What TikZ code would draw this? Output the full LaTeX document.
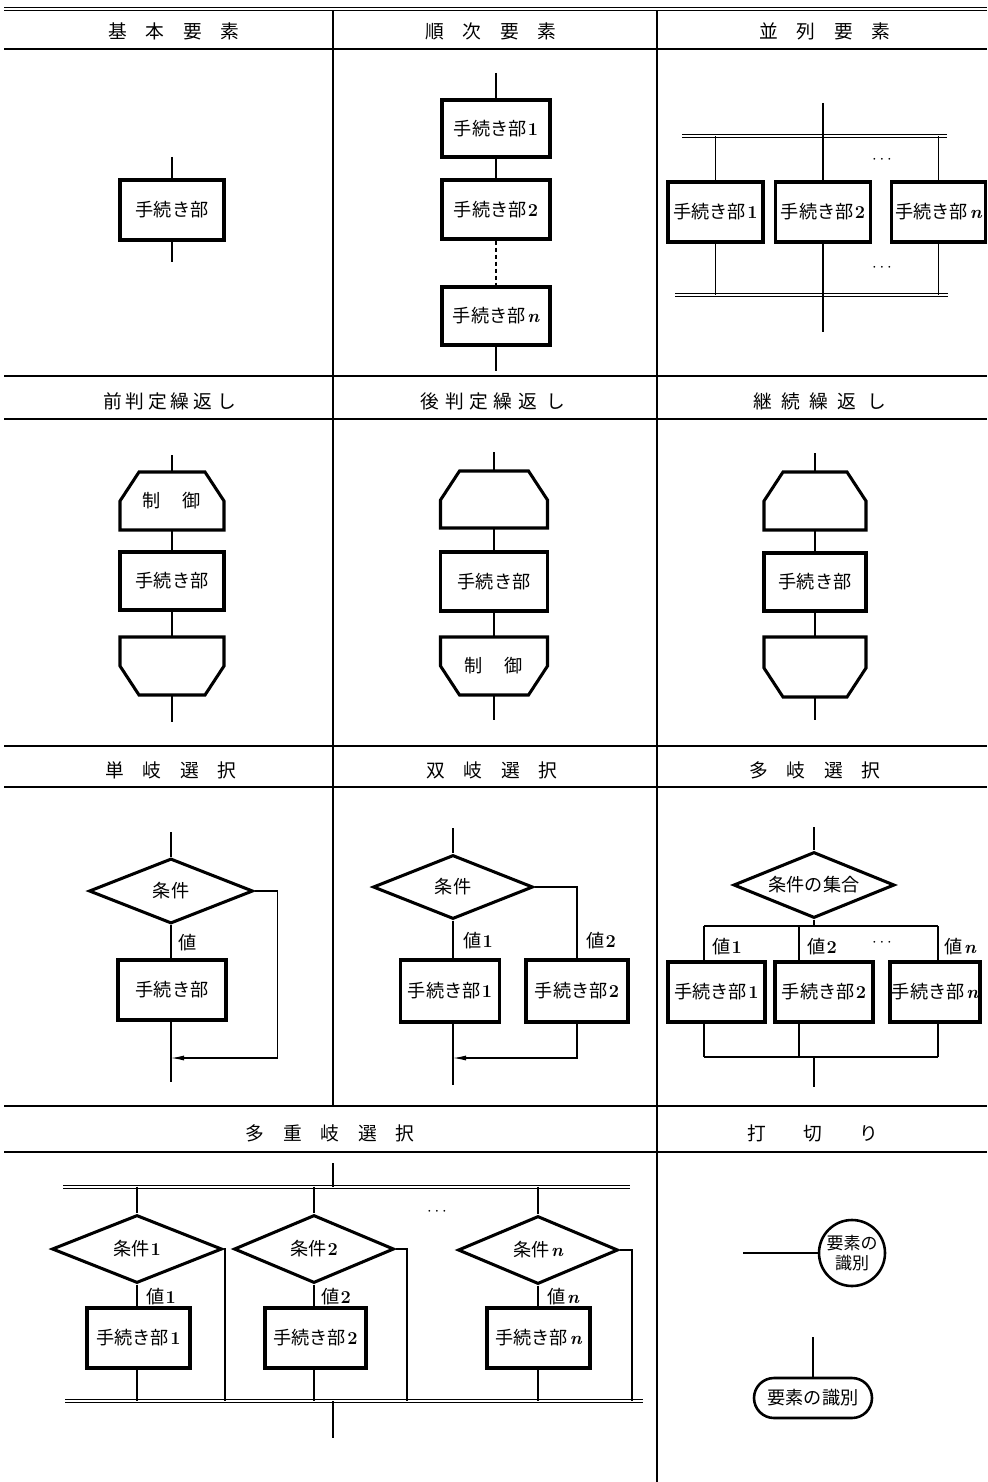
\documentclass[tikz,border=0pt]{standalone}
\usepackage{fontspec}
\newfontfamily\jp{Noto Sans CJK JP}
\usetikzlibrary{shapes.geometric,arrows.meta}

\def\upx{0.3mm}  %% one pixel of the 987 x 1482 sheet
\newcommand{\idx}[1]{\kern1pt{\rmfamily\bfseries #1}}
\newcommand{\nidx}{\kern1.5pt{\rmfamily\bfseries\itshape n}}
\newcommand{\hsp}[1]{\hspace{#1em}}

%% loop caps: outline drawn on the anchors of a plain node
\newcommand{\capup}[1]{%
  \draw[heavy] ([xshift=19*\upx]#1.north west) -- ([xshift=-19*\upx]#1.north east)
    -- ([yshift=-29*\upx]#1.north east) -- (#1.south east) -- (#1.south west)
    -- ([yshift=-29*\upx]#1.north west) -- cycle;}
\newcommand{\capdown}[1]{%
  \draw[heavy] (#1.north west) -- (#1.north east) -- ([yshift=29*\upx]#1.south east)
    -- ([xshift=-19*\upx]#1.south east) -- ([xshift=19*\upx]#1.south west)
    -- ([yshift=29*\upx]#1.south west) -- cycle;}

\tikzset{
  gridrule/.style={line width=1.1pt},
  twin/.style={double, double distance=2*\upx, line width=1*\upx},
  flow/.style={line width=0.9pt},
  heavy/.style={line width=2.6pt, line join=miter},
  sz/.style 2 args={minimum width=#1*\upx, minimum height=#2*\upx},
  proc/.style={draw, heavy, inner sep=0pt},
  cond/.style={diamond, draw, heavy, inner sep=0pt, shape aspect=2.5},
  capbox/.style={inner sep=0pt, outer sep=0pt},
  backflow/.style={flow, -{Latex[length=13*\upx, width=5*\upx]}},
  headtxt/.style={font=\jp\fontsize{16}{19}\selectfont},
  valtag/.style={anchor=west, inner sep=0pt},
}

\begin{document}
\begin{tikzpicture}[x=\upx, y=-\upx,
  every node/.style={font=\jp\fontsize{15.5}{18}\selectfont}]
\useasboundingbox (0,0) rectangle (987,1482);

%% Table rules
\draw[twin] (4,9.5) -- (987,9.5);
\foreach \y in {49,376,419,746,787,1106,1152}
  \draw[gridrule] (4,\y) -- (987,\y);
\draw[gridrule] (333,11) -- (333,1106);
\draw[gridrule] (657,11) -- (657,1482);

%% Headings
\node[headtxt] (h1) at (174,31) {基\hsp{1}本\hsp{1}要\hsp{1}素};
\node[headtxt] (h2) at (491,31) {順\hsp{1}次\hsp{1}要\hsp{1}素};
\node[headtxt] (h3) at (825,31) {並\hsp{1}列\hsp{1}要\hsp{1}素};
\node[headtxt] (h4) at (170,401) {前\hsp{.2}判\hsp{.2}定\hsp{.2}繰\hsp{.2}返\hsp{.3}し};
\node[headtxt] (h5) at (493,401) {後\hsp{.3}判\hsp{.3}定\hsp{.3}繰\hsp{.3}返\hsp{.5}し};
\node[headtxt] (h6) at (820,401) {継\hsp{.5}続\hsp{.5}繰\hsp{.5}返\hsp{.6}し};
\node[headtxt] (h7) at (171,770) {単\hsp{1}岐\hsp{1}選\hsp{1}択};
\node[headtxt] (h8) at (492,770) {双\hsp{1}岐\hsp{1}選\hsp{1}択};
\node[headtxt] (h9) at (815,770) {多\hsp{1}岐\hsp{1}選\hsp{1}択};
\node[headtxt] (h10) at (330,1133) {多\hsp{1}重\hsp{1}岐\hsp{1}選\hsp{1}択};
\node[headtxt] (h11) at (813,1133) {打\hsp{2}切\hsp{2}り};

%% Basic element
\node[proc, sz={104}{60}] (b0) at (172,210) {手続き部};
\coordinate (b0in) at (172,157);
\coordinate (b0out) at (172,262);
\draw[flow] (b0in) -- (b0.north);
\draw[flow] (b0.south) -- (b0out);

%% Sequence
\node[proc, sz={108}{57}] (s1) at (496,128.5) {手続き部\idx{1}};
\node[proc, sz={108}{59}] (s2) at (496,209.5) {手続き部\idx{2}};
\node[proc, sz={108}{58}] (sn) at (496,316) {手続き部\nidx};
\coordinate (sin) at (496,73);
\coordinate (sout) at (496,371);
\draw[flow] (sin) -- (s1.north);
\draw[flow] (s1.south) -- (s2.north);
\draw[flow, dash pattern=on 3.5pt off 2.5pt] (s2.south) -- (sn.north);
\draw[flow] (sn.south) -- (sout);

%% Parallel
\node[proc, sz={95}{60}] (p1) at (715.5,212) {手続き部\idx{1}};
\node[proc, sz={95}{60}] (p2) at (823,212) {手続き部\idx{2}};
\node[proc, sz={94}{60}] (pn) at (938.5,212) {手続き部\nidx};
\coordinate (pin) at (823,103);
\coordinate (pbl) at (682,136.5);
\coordinate (pbr) at (947,136.5);
\coordinate (qbl) at (675,295);
\coordinate (qbr) at (948,295);
\coordinate (pout) at (823,332);
\draw[twin] (pbl) -- (pbr);
\draw[twin] (qbl) -- (qbr);
\draw[flow] (pin) -- (pin |- pbl);
\foreach \b in {p1,p2,pn}{
  \draw[flow] (\b.north |- pbl) -- (\b.north);
  \draw[flow] (\b.south) -- (\b.south |- qbl);
}
\draw[flow] (pin |- qbl) -- (pout);
\node (pd1) at (882,160) {$\cdots$};
\node (pd2) at (882,268) {$\cdots$};

%% Pre-test loop
\node[capbox, sz={104}{58}, yshift=-3*\upx] (lc1) at (172,498) {制\hsp{1.2}御};
\node[proc, sz={104}{58}] (lb1) at (172,581) {手続き部};
\node[capbox, sz={104}{58}] (le1) at (172,666) {};
\capup{lc1}
\capdown{le1}
\coordinate (l1in) at (172,455);
\coordinate (l1out) at (172,722);
\draw[flow] (l1in) -- (lc1.north);
\draw[flow] (lc1.south) -- (lb1.north);
\draw[flow] (lb1.south) -- (le1.north);
\draw[flow] (le1.south) -- (l1out);

%% Post-test loop
\node[capbox, sz={107}{57}] (lc2) at (494,499.5) {};
\node[proc, sz={107}{59}] (lb2) at (494,581.5) {手続き部};
\node[capbox, sz={107}{58}] (le2) at (494,666) {制\hsp{1.2}御};
\capup{lc2}
\capdown{le2}
\coordinate (l2in) at (494,452);
\coordinate (l2out) at (494,720);
\draw[flow] (l2in) -- (lc2.north);
\draw[flow] (lc2.south) -- (lb2.north);
\draw[flow] (lb2.south) -- (le2.north);
\draw[flow] (le2.south) -- (l2out);

%% Endless loop
\node[capbox, sz={102}{58}] (lc3) at (815,501) {};
\node[proc, sz={102}{58}] (lb3) at (815,582) {手続き部};
\node[capbox, sz={102}{60}] (le3) at (815,667) {};
\capup{lc3}
\capdown{le3}
\coordinate (l3in) at (815,453);
\coordinate (l3out) at (815,720);
\draw[flow] (l3in) -- (lc3.north);
\draw[flow] (lc3.south) -- (lb3.north);
\draw[flow] (lb3.south) -- (le3.north);
\draw[flow] (le3.south) -- (l3out);

%% Single branch
\node[cond, sz={164}{65}] (c1) at (171,891) {条件};
\node[proc, sz={108}{60}] (a1) at (172,990) {手続き部};
\node[valtag] (v1) at (178,943) {値};
\coordinate (c1in) at (171,832);
\coordinate (c1j) at (171,1058);
\coordinate (c1out) at (171,1082);
\draw[flow] (c1in) -- (c1.north);
\draw[flow] (c1.south) -- (c1.south |- a1.north);
\draw[flow] (c1.south |- a1.south) -- (c1out);
\draw[backflow] (c1.east) -- ++(23,0) |- (c1j);

%% Double branch
\node[cond, sz={160}{64}] (c2) at (453,887) {条件};
\node[proc, sz={99}{62}] (a21) at (450,991) {手続き部\idx{1}};
\node[proc, sz={102}{62}] (a22) at (577,991) {手続き部\idx{2}};
\node[valtag] (v21) at (463,941) {値\idx{1}};
\node[valtag] (v22) at (586,941) {値\idx{2}};
\coordinate (c2in) at (453,828);
\coordinate (c2j) at (453,1058);
\coordinate (c2out) at (453,1085);
\draw[flow] (c2in) -- (c2.north);
\draw[flow] (c2.south) -- (c2.south |- a21.north);
\draw[flow] (c2.east) -| (a22.north);
\draw[flow] (c2.south |- a21.south) -- (c2out);
\draw[backflow] (a22.south) |- (c2j);

%% Multiple branch
\node[cond, sz={161}{66}] (c3) at (814,885) {条件の集合};
\node[proc, sz={97}{60}] (m1) at (716.5,992) {手続き部\idx{1}};
\node[proc, sz={98}{60}] (m2) at (824,992) {手続き部\idx{2}};
\node[proc, sz={90}{60}] (mn) at (935,992) {手続き部\nidx};
\node[valtag] (w1) at (712,947) {値\idx{1}};
\node[valtag] (w2) at (807,947) {値\idx{2}};
\node[valtag] (wn) at (944,947) {値\nidx};
\node (wd) at (882,943) {$\cdots$};
\coordinate (k1) at (704,926);
\coordinate (k2) at (799,926);
\coordinate (kn) at (938,926);
\coordinate (g1) at (704,1057);
\coordinate (g2) at (799,1057);
\coordinate (gn) at (938,1057);
\coordinate (c3in) at (814,827);
\coordinate (c3out) at (814,1087);
\draw[flow] (c3in) -- (c3.north);
\draw[flow] (c3.south) -- (c3.south |- k1);
\draw[flow] (k1) -- (kn);
\draw[flow] (g1) -- (gn);
\draw[flow] (k1) -- (k1 |- m1.north);
\draw[flow] (k2) -- (k2 |- m2.north);
\draw[flow] (kn) -- (kn |- mn.north);
\draw[flow] (k1 |- m1.south) -- (g1);
\draw[flow] (k2 |- m2.south) -- (g2);
\draw[flow] (kn |- mn.south) -- (gn);
\draw[flow] (c3.south |- g1) -- (c3out);

%% Nested multiple branch
\node[cond, sz={170}{68}] (d1) at (137,1249) {条件\idx{1}};
\node[cond, sz={160}{68}] (d2) at (314,1249) {条件\idx{2}};
\node[cond, sz={160}{68}] (dn) at (538,1250) {条件\nidx};
\node[proc, sz={103}{60}] (e1) at (138.5,1338) {手続き部\idx{1}};
\node[proc, sz={101}{60}] (e2) at (315.5,1338) {手続き部\idx{2}};
\node[proc, sz={103}{60}] (en) at (538.5,1338) {手続き部\nidx};
\node[valtag] (u1) at (146,1297) {値\idx{1}};
\node[valtag] (u2) at (321,1297) {値\idx{2}};
\node[valtag] (un) at (547,1297) {値\nidx};
\node (ud) at (437,1212) {$\cdots$};
\coordinate (tin) at (333,1163);
\coordinate (tbl) at (63,1186.5);
\coordinate (tbr) at (630,1186.5);
\coordinate (bbl) at (65,1401);
\coordinate (bbr) at (643,1401);
\coordinate (tout) at (333,1438);
\coordinate (r1) at (225,1401);
\coordinate (r2) at (407,1401);
\coordinate (rn) at (632,1401);
\draw[twin] (tbl) -- (tbr);
\draw[twin] (bbl) -- (bbr);
\draw[flow] (tin) -- (tin |- tbl);
\draw[flow] (tin |- bbl) -- (tout);
\foreach \d/\e/\r in {d1/e1/r1, d2/e2/r2, dn/en/rn}{
  \draw[flow] (\d.north |- tbl) -- (\d.north);
  \draw[flow] (\d.south) -- (\d.south |- \e.north);
  \draw[flow] (\d.south |- \e.south) -- (\d.south |- bbl);
  \draw[flow] (\d.east) -| (\r);
}

%% Exit
\node[circle, draw, line width=2.2pt, inner sep=0pt, minimum size=66*\upx,
      align=center, font=\jp\fontsize{14.5}{17}\selectfont]
  (x1) at (852,1253) {要素の\\識別};
\node[draw, line width=2.2pt, rounded corners=20*\upx, inner sep=0pt,
      sz={118}{40}] (x2) at (813,1398) {要素の識別};
\coordinate (x1in) at (743,1253);
\coordinate (x2in) at (813,1337);
\draw[flow] (x1in) -- (x1.west);
\draw[flow] (x2in) -- (x2.north);

\end{tikzpicture}
\end{document}
